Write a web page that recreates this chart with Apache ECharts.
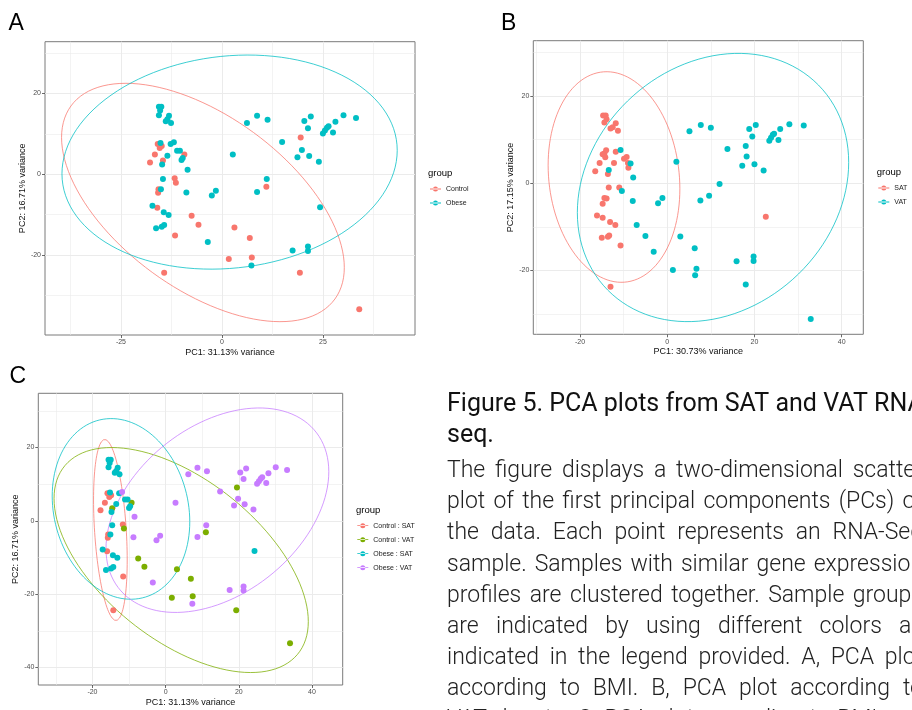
<!DOCTYPE html>
<html><head><meta charset="utf-8">
<script src="https://cdn.jsdelivr.net/npm/echarts@6/dist/echarts.min.js"></script>
<style>html,body{margin:0;padding:0;background:#fff;overflow:hidden}#c{width:912px;height:710px}</style>
</head><body><div id="c"></div>
<script>
// ---------- Panels A and C share one PCA (PC1 31.13 %, PC2 16.71 %) ----------
const controlSAT = [[-15.9,7.5],[-15.4,6.5],[-14.9,7.0],[-16.6,4.9],[-17.8,2.9],[-11.7,-1.0],[-15.7,-3.7],[-15.8,-4.6],[-16.0,-8.3],[-11.6,-15.2],[-14.3,-24.4]];
const controlVAT = [[-9.3,4.9],[-14.6,3.4],[-11.4,-2.1],[-7.5,-10.3],[-5.8,-12.5],[3.1,-13.2],[6.9,-15.8],[1.7,-21.0],[7.4,-20.6],[11.0,-3.1],[19.5,9.1],[19.3,-24.4],[34.0,-33.4]];
const obeseSAT = [[-15.6,16.7],[-15.0,16.7],[-15.3,15.8],[-15.6,14.6],[-13.1,14.5],[-13.5,13.6],[-13.9,13.1],[-12.6,12.7],[-15.2,7.7],[-12.7,7.5],[-11.1,5.8],[-10.4,5.8],[-13.5,4.6],[-14.8,2.4],[-10.0,3.5],[-9.7,4.0],[-14.6,-1.2],[-15.1,-3.7],[-17.2,-7.8],[-14.4,-9.4],[-13.2,-10.1],[-16.3,-13.4],[-14.9,-13.0],[-14.3,-12.6],[24.3,-8.2]];
const obeseVAT = [[-11.9,7.9],[-8.5,1.1],[-8.8,-4.5],[-2.5,-5.3],[-1.5,-4.1],[2.7,4.9],[6.2,12.7],[8.7,14.5],[11.3,13.5],[14.9,8.0],[8.7,-4.4],[11.1,-1.2],[-3.5,-16.8],[7.3,-22.6],[17.5,-18.9],[21.3,-17.9],[21.3,-19.0],[20.4,13.2],[22.0,14.3],[21.3,11.4],[18.7,4.2],[19.8,6.0],[21.6,4.5],[24.0,3.1],[25.0,10.1],[25.5,10.8],[26.0,11.5],[26.4,11.9],[27.5,10.3],[28.1,13.0],[30.1,14.6],[33.2,13.9]];

// ---------- Panel B (PC1 30.73 %, PC2 17.15 %) ----------
const bSAT = [[-14.7,15.5],[-14.1,15.5],[-14.4,13.9],[-13.9,14.6],[-11.8,13.7],[-13.0,12.5],[-12.5,12.8],[-11.3,12.0],[-14.4,6.8],[-14.0,7.5],[-14.8,6.6],[-14.2,5.9],[-11.8,7.2],[-15.5,4.6],[-16.5,2.7],[-12.2,4.6],[-13.6,2.1],[-9.9,5.6],[-9.3,6.0],[-9.0,4.6],[-8.9,3.5],[-13.4,-1.0],[-11.0,-1.0],[-14.4,-3.4],[-13.9,-3.5],[-14.8,-4.7],[-16.1,-7.4],[-14.8,-7.9],[-13.1,-8.9],[-11.9,-9.6],[-15.0,-12.5],[-13.3,-12.0],[-13.6,-12.3],[-10.7,-14.3],[-13.0,-23.7],[22.6,-7.7]];
const bVAT = [[-10.7,7.6],[-8.4,4.5],[-13.4,3.0],[-7.8,1.3],[-10.4,-1.8],[-7.9,-4.1],[-1.1,-3.4],[-2.1,-4.6],[-7.0,-9.6],[-5.0,-12.1],[-3.1,-15.7],[2.1,4.9],[5.1,11.9],[7.7,13.3],[3.0,-12.2],[1.3,-19.9],[6.3,-14.9],[6.7,-19.6],[6.4,-21.1],[7.6,-4.0],[9.6,-2.9],[10.0,12.7],[18.8,12.4],[20.3,13.3],[19.5,10.7],[13.8,7.8],[18.0,8.5],[18.2,6.1],[17.2,4.0],[20.0,4.3],[22.1,2.9],[23.4,9.7],[23.8,10.4],[24.2,11.1],[24.5,11.3],[25.5,9.9],[25.9,12.4],[28.0,13.5],[31.3,13.2],[12.0,-0.2],[15.9,-17.9],[19.8,-16.8],[19.8,-17.8],[18.0,-23.2],[32.9,-31.1]];

// ---------- ellipse shapes: [cx, cy, half-width, half-height, y-offset at right extreme] ----------
const ellA = {Control:[-4.7,-7.0,35.0,29.5,-16.1], Obese:[1.9,3.0,41.5,26.5,2.9]};
const ellB = {SAT:[-12.2,1.4,15.1,24.1,-2.7], VAT:[10.5,-1.0,31.1,30.7,5.75]};
const ellC = {CS:[-15.1,-2.5,4.6,24.7,-8.2], CV:[4.25,-10.7,34.75,30.7,-16.8], OS:[-12.2,3.25,18.8,24.65,-3.5], OV:[14.15,2.9,30.45,27.9,10.5]};

// ---------- axes ----------
const axA = {xmin:-43.8, xmax:47.8, ymin:-39.8, ymax:32.8, xt:[-25,0,25], yt:[-20,0,20], xm:[-37.5,-12.5,12.5,37.5], ym:[-30,-10,10,30]};
const axB = {xmin:-30.7, xmax:44.95, ymin:-34.6, ymax:32.6, xt:[-20,0,20,40], yt:[-20,0,20], xm:[-30,-10,10,30], ym:[-30,-10,10,30]};
const axC = {xmin:-34.8, xmax:48.4, ymin:-44.8, ymax:34.8, xt:[-20,0,20,40], yt:[-40,-20,0,20], xm:[-30,-10,10,30], ym:[-30,-10,10,30]};
const titles = {A:['PC1: 31.13% variance','PC2: 16.71% variance'], B:['PC1: 30.73% variance','PC2: 17.15% variance'], C:['PC1: 31.13% variance','PC2: 16.71% variance']};

const RED='#F8766D', CYAN='#00BFC4', GREEN='#7CAE00', PURPLE='#C77CFF';
const F = 'Liberation Sans';

const captionTitle = ['Figure 5. PCA plots from SAT and VAT RNA-','seq.'];
const captionBody = [
 'The figure displays a two-dimensional scatter',
 'plot of the first principal components (PCs) of',
 'the data. Each point represents an RNA-Seq',
 'sample. Samples with similar gene expression',
 'profiles are clustered together. Sample groups',
 'are indicated by using different colors as',
 'indicated in the legend provided. A, PCA plot',
 'according to BMI. B, PCA plot according to',
 'VAT depots. C, PCA plot according to BMI and'
];

function ellipse(e){
  const [cx,cy,wx,wy,p]=e; const q=Math.sqrt(wy*wy-p*p); const out=[];
  for(let i=0;i<=120;i++){const t=2*Math.PI*i/120; out.push([cx+wx*Math.cos(t), cy+p*Math.cos(t)+q*Math.sin(t)]);}
  return out;
}
const grids=[
  {left:45, top:41.7, width:370, height:293.3},
  {left:533.3, top:40.7, width:330, height:293.6},
  {left:38.3, top:393.3, width:304.4, height:291.7}
].map(g=>Object.assign({show:true, backgroundColor:'#fff', borderColor:'#7a7a7a', borderWidth:1}, g));

const xAxis=[], yAxis=[];
[[axA,titles.A],[axB,titles.B],[axC,titles.C]].forEach(([a,t],gi)=>{
  xAxis.push({type:'value', gridIndex:gi, min:a.xmin, max:a.xmax, name:t[0], nameLocation:'middle', nameGap:13,
    nameTextStyle:{fontSize:9, color:'#111', fontFamily:F},
    axisLine:{show:false, onZero:false}, splitLine:{show:false},
    axisTick:{show:true, customValues:a.xt, length:3, lineStyle:{color:'#444', width:0.8}},
    axisLabel:{customValues:a.xt, fontSize:7, color:'#4d4d4d', margin:4, fontFamily:F}});
  yAxis.push({type:'value', gridIndex:gi, min:a.ymin, max:a.ymax, name:t[1], nameLocation:'middle', nameGap:17,
    nameTextStyle:{fontSize:9, color:'#111', fontFamily:F},
    axisLine:{show:false, onZero:false}, splitLine:{show:false},
    axisTick:{show:true, customValues:a.yt, length:3, lineStyle:{color:'#444', width:0.8}},
    axisLabel:{customValues:a.yt, fontSize:7, color:'#4d4d4d', margin:4, fontFamily:F}});
});

const series=[];
[axA,axB,axC].forEach((a,gi)=>{
  const md=[];
  a.xt.forEach(v=>md.push({xAxis:v, lineStyle:{width:1}}));
  a.yt.forEach(v=>md.push({yAxis:v, lineStyle:{width:1}}));
  a.xm.forEach(v=>md.push({xAxis:v, lineStyle:{width:0.6}}));
  a.ym.forEach(v=>md.push({yAxis:v, lineStyle:{width:0.6}}));
  series.push({type:'line', xAxisIndex:gi, yAxisIndex:gi, data:[], z:0, silent:true,
    markLine:{silent:true, z:0, symbol:'none', label:{show:false}, animation:false,
      lineStyle:{color:'#ebebeb', type:'solid'}, data:md}});
});
function ell(gi, e, color){ return {type:'line', xAxisIndex:gi, yAxisIndex:gi, data:ellipse(e), showSymbol:false, symbol:'none', silent:true, z:2,
  lineStyle:{color, width:0.9, opacity:0.85}}; }
function pts(gi, name, data, color){ return {type:'scatter', name, xAxisIndex:gi, yAxisIndex:gi, data, symbol:'circle', symbolSize:6, z:3,
  itemStyle:{color, opacity:1}}; }

series.push(ell(0, ellA.Control, RED), ell(0, ellA.Obese, CYAN));
series.push(pts(0,'Control', controlSAT.concat(controlVAT), RED), pts(0,'Obese', obeseSAT.concat(obeseVAT), CYAN));
series.push(ell(1, ellB.SAT, RED), ell(1, ellB.VAT, CYAN));
series.push(pts(1,'SAT', bSAT, RED), pts(1,'VAT', bVAT, CYAN));
series.push(ell(2, ellC.CS, RED), ell(2, ellC.CV, GREEN), ell(2, ellC.OS, CYAN), ell(2, ellC.OV, PURPLE));
series.push(pts(2,'Control : SAT', controlSAT, RED), pts(2,'Control : VAT', controlVAT, GREEN), pts(2,'Obese : SAT', obeseSAT, CYAN), pts(2,'Obese : VAT', obeseVAT, PURPLE));

const ICON='path://M0,2.1H11V2.9H0Z M3,2.5A2.5,2.5 0 1 0 8,2.5A2.5,2.5 0 1 0 3,2.5Z';
function leg(names,left,top){ return {orient:'vertical', left, top, padding:0, itemWidth:11, itemHeight:8, itemGap:6, icon:ICON,
  selectedMode:false, data:names, textStyle:{fontSize:7, color:'#1a1a1a', fontFamily:F, lineHeight:8}}; }
const legend=[leg(['Control','Obese'],430,185), leg(['SAT','VAT'],878.3,184), leg(['Control : SAT','Control : VAT','Obese : SAT','Obese : VAT'],357.3,521.7)];

// ---------- text graphics ----------
const graphic=[];
function txt(text,x,y,size,opts){ graphic.push({type:'text', x, y, silent:true, style:Object.assign({text, fontSize:size, fontFamily:F, fill:'#000', align:'left', verticalAlign:'middle', textAlign:'left', textVerticalAlign:'middle'}, opts||{})}); }
txt('A',8.5,23.5,23); txt('B',501,23.5,23); txt('C',9.5,376.5,23);
txt('group',428,173,9.5); txt('group',876.7,172,9.5); txt('group',356,510,9.5);

const cv=document.createElement('canvas').getContext('2d');
const CAPF='Roboto';
captionTitle.forEach((l,i)=>txt(l,447,404.5+31.5*i,25,{fontFamily:CAPF, fontWeight:400, fill:'#111'}));
const BODY_X=447, BODY_W=476, BODY_Y=471.5, BODY_LH=31.1, BODY_FS=23;
captionBody.forEach((line,i)=>{
  cv.font='300 '+BODY_FS+'px '+CAPF;
  const ws=line.split(' '); const wd=ws.map(w=>cv.measureText(w).width);
  const tot=wd.reduce((s,v)=>s+v,0); const sp=cv.measureText(' ').width;
  const gap=Math.max(sp,(BODY_W-tot)/(ws.length-1));
  let x=BODY_X;
  ws.forEach((w,j)=>{ txt(w,x,BODY_Y+BODY_LH*i,BODY_FS,{fontFamily:CAPF, fontWeight:300, fill:'#222'}); x+=wd[j]+gap; });
});

const chart=echarts.init(document.getElementById('c'),null,{renderer:'canvas'});
chart.setOption({animation:false, grid:grids, xAxis, yAxis, series, legend, graphic});
</script></body></html>
